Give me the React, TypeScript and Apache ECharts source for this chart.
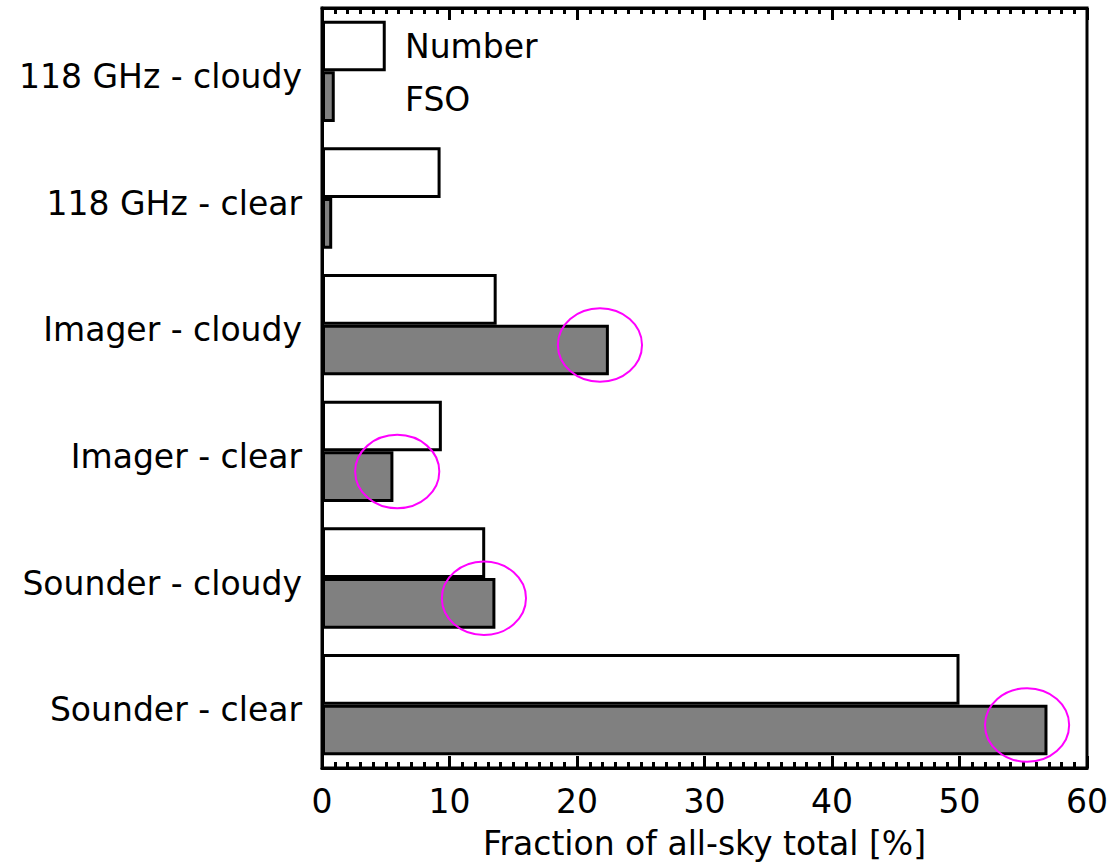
import React, { useEffect, useRef } from "react";
import * as echarts from "echarts";

const categories = [
  "Sounder - clear",
  "Sounder - cloudy",
  "Imager - clear",
  "Imager - cloudy",
  "118 GHz - clear",
  "118 GHz - cloudy",
];
const numberValues = [50.0, 12.8, 9.4, 13.7, 9.3, 5.0];
const fsoValues = [56.9, 13.6, 5.6, 22.5, 0.8, 1.0];
const highlightX = [55.3, 12.7, 5.9, 21.8];
const highlightCats = ["Sounder - clear", "Sounder - cloudy", "Imager - clear", "Imager - cloudy"];
const xTicks = [0, 10, 20, 30, 40, 50, 60];

const FONT = "DejaVu Sans, sans-serif";
const FS = 33;

export default function App() {
  const ref = useRef<HTMLDivElement>(null);
  useEffect(() => {
    if (!ref.current) return;
    const chart = echarts.init(ref.current, null, { renderer: "svg" });
    const xMin = xTicks[0];
    const xMax = xTicks[xTicks.length - 1];
    const interval = xTicks[1] - xTicks[0];
    const highlightData = highlightX.map((x, i) => [x, highlightCats[i]]);
    chart.setOption({
      animation: false,
      backgroundColor: "#ffffff",
      textStyle: { fontFamily: FONT, color: "#000" },
      grid: {
        left: 322,
        right: 24,
        top: 8,
        bottom: 95,
        show: true,
        borderColor: "#000",
        borderWidth: 3,
        backgroundColor: "transparent",
      },
      legend: {
        data: ["Number", "FSO"],
        orient: "vertical",
        left: 394,
        top: 25,
        itemWidth: 0,
        itemHeight: 0,
        itemGap: 20,
        icon: "rect",
        selectedMode: false,
        textStyle: { fontFamily: FONT, fontSize: FS, color: "#000" },
      },
      xAxis: [
        {
          type: "value",
          min: xMin,
          max: xMax,
          interval: interval,
          position: "bottom",
          name: "Fraction of all-sky total [%]",
          nameLocation: "middle",
          nameGap: 59,
          nameTextStyle: { fontFamily: FONT, fontSize: FS, color: "#000" },
          axisLine: { show: true, lineStyle: { color: "#000", width: 3 } },
          axisTick: { show: true, inside: true, length: 12, lineStyle: { color: "#000", width: 3 } },
          minorTick: { show: true, splitNumber: 10, length: 6, lineStyle: { color: "#000", width: 3 } },
          axisLabel: { fontFamily: FONT, fontSize: FS, color: "#000", margin: 17 },
          splitLine: { show: false },
        },
        {
          type: "value",
          min: xMin,
          max: xMax,
          interval: interval,
          position: "top",
          axisLine: { show: true, lineStyle: { color: "#000", width: 3 } },
          axisTick: { show: true, inside: true, length: 12, lineStyle: { color: "#000", width: 3 } },
          minorTick: { show: true, splitNumber: 10, length: 6, lineStyle: { color: "#000", width: 3 } },
          axisLabel: { show: false },
          splitLine: { show: false },
        },
      ],
      yAxis: {
        type: "category",
        data: categories,
        axisLine: { show: true, lineStyle: { color: "#000", width: 3 } },
        axisTick: { show: false },
        axisLabel: {
          fontFamily: FONT,
          fontSize: FS,
          color: "#000",
          margin: 20,
          formatter: "{a|{value}}",
          rich: {
            a: { fontFamily: FONT, fontSize: FS, color: "#000", padding: [10, 0, 0, 0] },
          },
        },
        splitLine: { show: false },
      },
      series: [
        {
          name: "Number",
          type: "bar",
          data: numberValues,
          barGap: "0%",
          barCategoryGap: "20%",
          itemStyle: { color: "#ffffff", borderColor: "#000", borderWidth: 3 },
          z: 2,
        },
        {
          name: "FSO",
          type: "bar",
          data: fsoValues,
          barGap: "0%",
          barCategoryGap: "20%",
          itemStyle: { color: "#808080", borderColor: "#000", borderWidth: 3 },
          z: 2,
        },
        {
          name: "highlight",
          type: "custom",
          data: highlightData,
          encode: { x: 0, y: 1 },
          z: 5,
          silent: true,
          renderItem: (params: any, api: any) => {
            const c = api.coord([api.value(0), api.value(1)]);
            const band = api.size([0, 1])[1];
            const rx = api.size([3.3, 0])[0];
            return {
              type: "ellipse",
              shape: { cx: c[0], cy: c[1] + band * 0.16, rx: rx, ry: band * 0.29 },
              style: { fill: "none", stroke: "#ff00ff", lineWidth: 2 },
            };
          },
        },
      ],
    });
    return () => chart.dispose();
  }, []);
  return (
    <div
      ref={ref}
      style={{ position: "fixed", left: 0, top: 0, width: 1111, height: 865, background: "#fff" }}
    />
  );
}
